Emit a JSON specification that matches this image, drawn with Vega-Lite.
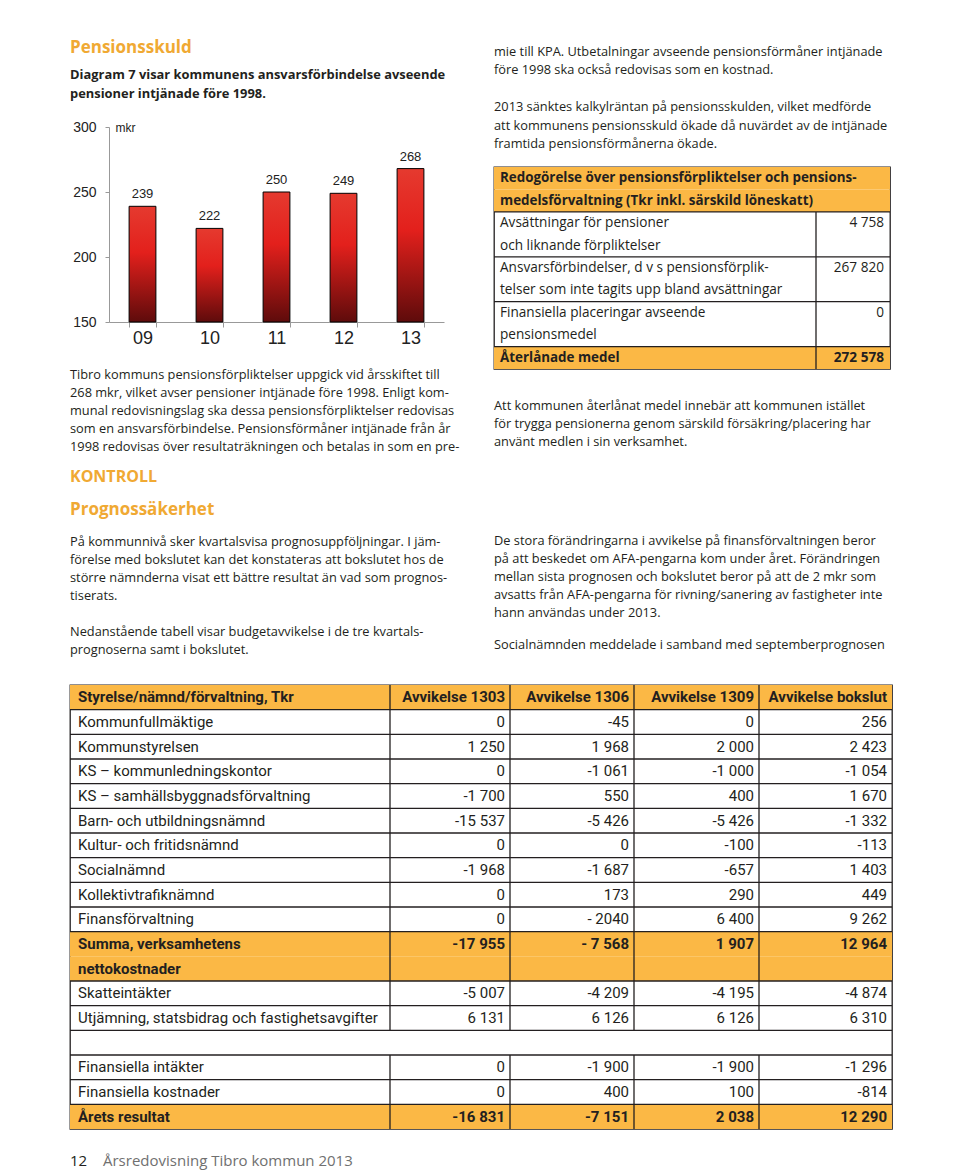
{
  "$schema": "https://vega.github.io/schema/vega-lite/v6.json",
  "background": "white",
  "padding": {"left": 68, "top": 30, "right": 0, "bottom": 0},
  "config": {"view": {"stroke": null}, "axis": {"grid": false}},
  "datasets": {
    "bars": [
      {"year": "09", "value": 239},
      {"year": "10", "value": 222},
      {"year": "11", "value": 250},
      {"year": "12", "value": 249},
      {"year": "13", "value": 268}
    ],
    "lines": [
      {"block": "L1", "i": 0, "text": "Pensionsskuld"},
      {"block": "L2", "i": 0, "text": "Diagram 7 visar kommunens ansvarsförbindelse avseende"},
      {"block": "L2", "i": 1, "text": "pensioner intjänade före 1998."},
      {"block": "L4", "i": 0, "text": "Tibro kommuns pensionsförpliktelser uppgick vid årsskiftet till"},
      {"block": "L4", "i": 1, "text": "268 mkr, vilket avser pensioner intjänade före 1998. Enligt kom-"},
      {"block": "L4", "i": 2, "text": "munal redovisningslag ska dessa pensionsförpliktelser redovisas"},
      {"block": "L4", "i": 3, "text": "som en ansvarsförbindelse. Pensionsförmåner intjänade från år"},
      {"block": "L4", "i": 4, "text": "1998 redovisas över resultaträkningen och betalas in som en pre-"},
      {"block": "L5", "i": 0, "text": "KONTROLL"},
      {"block": "L6", "i": 0, "text": "Prognossäkerhet"},
      {"block": "L7", "i": 0, "text": "På kommunnivå sker kvartalsvisa prognosuppföljningar. I jäm-"},
      {"block": "L7", "i": 1, "text": "förelse med bokslutet kan det konstateras att bokslutet hos de"},
      {"block": "L7", "i": 2, "text": "större nämnderna visat ett bättre resultat än vad som prognos-"},
      {"block": "L7", "i": 3, "text": "tiserats."},
      {"block": "L7", "i": 5, "text": "Nedanstående tabell visar budgetavvikelse i de tre kvartals-"},
      {"block": "L7", "i": 6, "text": "prognoserna samt i bokslutet."},
      {"block": "R1", "i": 0, "text": "mie till KPA. Utbetalningar avseende pensionsförmåner intjänade"},
      {"block": "R1", "i": 1, "text": "före 1998 ska också redovisas som en kostnad."},
      {"block": "R1", "i": 3, "text": "2013 sänktes kalkylräntan på pensionsskulden, vilket medförde"},
      {"block": "R1", "i": 4, "text": "att kommunens pensionsskuld ökade då nuvärdet av de intjänade"},
      {"block": "R1", "i": 5, "text": "framtida pensionsförmånerna ökade."},
      {"block": "R4", "i": 0, "text": "Att kommunen återlånat medel innebär att kommunen istället"},
      {"block": "R4", "i": 1, "text": "för trygga pensionerna genom särskild försäkring/placering har"},
      {"block": "R4", "i": 2, "text": "använt medlen i sin verksamhet."},
      {"block": "R5", "i": 0, "text": "De stora förändringarna i avvikelse på finansförvaltningen beror"},
      {"block": "R5", "i": 1, "text": "på att beskedet om AFA-pengarna kom under året. Förändringen"},
      {"block": "R5", "i": 2, "text": "mellan sista prognosen och bokslutet beror på att de 2 mkr som"},
      {"block": "R5", "i": 3, "text": "avsatts från AFA-pengarna för rivning/sanering av fastigheter inte"},
      {"block": "R5", "i": 4, "text": "hann användas under 2013."},
      {"block": "R6", "i": 0, "text": "Socialnämnden meddelade i samband med septemberprognosen"},
      {"block": "F", "i": 0, "text": "12"},
      {"block": "F", "i": 1, "text": "Årsredovisning Tibro kommun 2013"}
    ],
    "pens": [
      {"k": "h1", "label": "Redogörelse över pensionsförpliktelser och pensions-", "value": "", "kind": "head", "start": true},
      {"k": "h2", "label": "medelsförvaltning (Tkr inkl. särskild löneskatt)", "value": "", "kind": "head", "start": false},
      {"k": "a1", "label": "Avsättningar för pensioner", "value": "4 758", "kind": "row", "start": true},
      {"k": "a2", "label": "och liknande förpliktelser", "value": "", "kind": "row", "start": false},
      {"k": "b1", "label": "Ansvarsförbindelser, d v s pensionsförplik-", "value": "267 820", "kind": "row", "start": true},
      {"k": "b2", "label": "telser som inte tagits upp bland avsättningar", "value": "", "kind": "row", "start": false},
      {"k": "c1", "label": "Finansiella placeringar avseende", "value": "0", "kind": "row", "start": true},
      {"k": "c2", "label": "pensionsmedel", "value": "", "kind": "row", "start": false},
      {"k": "t", "label": "Återlånade medel", "value": "272 578", "kind": "total", "start": true}
    ],
    "budget": [
      {"k": "r00", "label": "Styrelse/nämnd/förvaltning, Tkr", "a": "Avvikelse 1303", "b": "Avvikelse 1306", "c": "Avvikelse 1309", "d": "Avvikelse bokslut", "kind": "head", "start": true},
      {"k": "r01", "label": "Kommunfullmäktige", "a": "0", "b": "-45", "c": "0", "d": "256", "kind": "row", "start": true},
      {"k": "r02", "label": "Kommunstyrelsen", "a": "1 250", "b": "1 968", "c": "2 000", "d": "2 423", "kind": "row", "start": true},
      {"k": "r03", "label": "KS – kommunledningskontor", "a": "0", "b": "-1 061", "c": "-1 000", "d": "-1 054", "kind": "row", "start": true},
      {"k": "r04", "label": "KS – samhällsbyggnadsförvaltning", "a": "-1 700", "b": "550", "c": "400", "d": "1 670", "kind": "row", "start": true},
      {"k": "r05", "label": "Barn- och utbildningsnämnd", "a": "-15 537", "b": "-5 426", "c": "-5 426", "d": "-1 332", "kind": "row", "start": true},
      {"k": "r06", "label": "Kultur- och fritidsnämnd", "a": "0", "b": "0", "c": "-100", "d": "-113", "kind": "row", "start": true},
      {"k": "r07", "label": "Socialnämnd", "a": "-1 968", "b": "-1 687", "c": "-657", "d": "1 403", "kind": "row", "start": true},
      {"k": "r08", "label": "Kollektivtrafiknämnd", "a": "0", "b": "173", "c": "290", "d": "449", "kind": "row", "start": true},
      {"k": "r09", "label": "Finansförvaltning", "a": "0", "b": "- 2040", "c": "6 400", "d": "9 262", "kind": "row", "start": true},
      {"k": "r10", "label": "Summa, verksamhetens", "a": "-17 955", "b": "- 7 568", "c": "1 907", "d": "12 964", "kind": "sum", "start": true},
      {"k": "r11", "label": "nettokostnader", "a": "", "b": "", "c": "", "d": "", "kind": "sum", "start": false},
      {"k": "r12", "label": "Skatteintäkter", "a": "-5 007", "b": "-4 209", "c": "-4 195", "d": "-4 874", "kind": "row", "start": true},
      {"k": "r13", "label": "Utjämning, statsbidrag och fastighetsavgifter", "a": "6 131", "b": "6 126", "c": "6 126", "d": "6 310", "kind": "row", "start": true},
      {"k": "r14", "label": "", "a": "", "b": "", "c": "", "d": "", "kind": "blank", "start": true},
      {"k": "r15", "label": "Finansiella intäkter", "a": "0", "b": "-1 900", "c": "-1 900", "d": "-1 296", "kind": "row", "start": true},
      {"k": "r16", "label": "Finansiella kostnader", "a": "0", "b": "400", "c": "100", "d": "-814", "kind": "row", "start": true},
      {"k": "r17", "label": "Årets resultat", "a": "-16 831", "b": "-7 151", "c": "2 038", "d": "12 290", "kind": "total", "start": true}
    ]
  },
  "spacing": 23,
  "bounds": "full",
  "vconcat": [
    {
      "spacing": 12,
      "bounds": "full",
      "hconcat": [
        {
          "spacing": 0,
          "bounds": "flush",
          "vconcat": [
            {"width": 410, "height": 35, "data": {"name": "lines"}, "transform": [{"filter": "datum.block == 'L1'"}],
             "mark": {"type": "text", "align": "left", "baseline": "middle", "font": "Open Sans", "fontSize": 17, "fontWeight": "bold", "color": "#f0a933"},
             "encoding": {"x": {"value": 0}, "y": {"value": 17.5}, "text": {"field": "text"}}},
            {"width": 410, "height": 38, "data": {"name": "lines"}, "transform": [{"filter": "datum.block == 'L2'"}],
             "mark": {"type": "text", "align": "left", "baseline": "middle", "font": "Open Sans", "fontSize": 12.9, "fontWeight": "bold", "color": "#231f20"},
             "encoding": {"x": {"value": 0}, "y": {"field": "i", "type": "ordinal", "axis": null, "scale": {"type": "point", "domain": [0, 1], "range": [9.5, 28.5], "padding": 0}}, "text": {"field": "text"}}},
            {"width": 410, "height": 219, "data": {"name": "bars"},
             "layer": [
               {"mark": {"type": "bar", "stroke": "#000000", "strokeWidth": 1,
                         "color": {"gradient": "linear", "x1": 0, "y1": 0, "x2": 0, "y2": 1,
                                   "stops": [{"offset": 0, "color": "#e53a2f"}, {"offset": 0.4, "color": "#e3201c"}, {"offset": 1, "color": "#5e0b0b"}]}},
                "encoding": {
                  "x": {"field": "year", "type": "ordinal",
                        "scale": {"type": "band", "range": [39, 374], "paddingInner": 0.6, "paddingOuter": 0.3},
                        "axis": {"title": null, "labelAngle": 0, "labelFont": "Liberation Sans", "labelFontSize": 18, "labelColor": "#222222",
                                 "domainColor": "#999999", "tickColor": "#999999", "tickSize": 5, "tickBand": "extent", "labelPadding": 2, "grid": false}},
                  "y": {"field": "value", "type": "quantitative",
                        "scale": {"domain": [150, 300], "range": [219, 24], "zero": false, "nice": false},
                        "axis": {"values": [150, 200, 250, 300], "offset": -39, "grid": false, "domainColor": "#999999", "tickColor": "#999999",
                                 "tickSize": 4, "labelPadding": 9, "labelFont": "Liberation Sans", "labelFontSize": 14, "labelColor": "#222222",
                                 "labelFlush": false, "labelOverlap": false,
                                 "title": "mkr", "titleAngle": 0, "titleAlign": "left", "titleBaseline": "middle", "titleX": 6, "titleY": 24,
                                 "titleFont": "Liberation Sans", "titleFontSize": 12, "titleFontWeight": "normal", "titleColor": "#222222"}},
                  "y2": {"datum": 150}
                }},
               {"mark": {"type": "text", "baseline": "bottom", "dy": -5, "font": "Liberation Sans", "fontSize": 13, "color": "#222222"},
                "encoding": {
                  "x": {"field": "year", "type": "ordinal"},
                  "y": {"field": "value", "type": "quantitative"},
                  "text": {"field": "value"}
                }}
             ]},
            {"width": 410, "height": 133, "data": {"name": "lines"}, "transform": [{"filter": "datum.block == 'L4'"}],
             "mark": {"type": "text", "align": "left", "baseline": "middle", "font": "Open Sans", "fontSize": 12.8, "color": "#231f20"},
             "encoding": {"x": {"value": 0}, "y": {"field": "i", "type": "ordinal", "axis": null, "scale": {"type": "point", "domain": [0, 1, 2, 3, 4], "range": [53, 125], "padding": 0}}, "text": {"field": "text"}}},
            {"width": 410, "height": 37, "data": {"name": "lines"}, "transform": [{"filter": "datum.block == 'L5'"}],
             "mark": {"type": "text", "align": "left", "baseline": "middle", "font": "Open Sans", "fontSize": 16, "fontWeight": "bold", "color": "#f0a933"},
             "encoding": {"x": {"value": 0}, "y": {"value": 22}, "text": {"field": "text"}}},
            {"width": 410, "height": 33, "data": {"name": "lines"}, "transform": [{"filter": "datum.block == 'L6'"}],
             "mark": {"type": "text", "align": "left", "baseline": "middle", "font": "Open Sans", "fontSize": 17, "fontWeight": "bold", "color": "#f0a933"},
             "encoding": {"x": {"value": 0}, "y": {"value": 17.5}, "text": {"field": "text"}}},
            {"width": 410, "height": 135, "data": {"name": "lines"}, "transform": [{"filter": "datum.block == 'L7'"}],
             "mark": {"type": "text", "align": "left", "baseline": "middle", "font": "Open Sans", "fontSize": 12.8, "color": "#231f20"},
             "encoding": {"x": {"value": 0}, "y": {"field": "i", "type": "ordinal", "axis": null, "scale": {"type": "point", "domain": [0, 1, 2, 3, 4, 5, 6], "range": [17, 125], "padding": 0}}, "text": {"field": "text"}}}
          ]
        },
        {
          "spacing": 0,
          "bounds": "flush",
          "vconcat": [
            {"width": 396, "height": 137, "data": {"name": "lines"}, "transform": [{"filter": "datum.block == 'R1'"}],
             "mark": {"type": "text", "align": "left", "baseline": "middle", "font": "Open Sans", "fontSize": 12.8, "color": "#231f20"},
             "encoding": {"x": {"value": 0}, "y": {"field": "i", "type": "ordinal", "axis": null, "scale": {"type": "point", "domain": [0, 1, 2, 3, 4, 5], "range": [22, 114], "padding": 0}}, "text": {"field": "text"}}},
            {"width": 396, "height": 202, "data": {"name": "pens"},
             "view": {"stroke": "#231f20", "strokeWidth": 1.3},
             "encoding": {"y": {"field": "k", "type": "ordinal", "axis": null, "scale": {"type": "band", "domain": ["h1", "h2", "a1", "a2", "b1", "b2", "c1", "c2", "t"], "paddingInner": 0, "paddingOuter": 0}}},
             "layer": [
               {"transform": [{"filter": "datum.kind != 'row'"}], "mark": {"type": "rect", "color": "#fbb845"},
                "encoding": {"x": {"value": 0}, "x2": {"value": "width"}}},
               {"transform": [{"filter": "datum.k == 'a1'"}], "mark": {"type": "rule", "color": "#231f20", "strokeWidth": 1.3},
                "encoding": {"x": {"value": 322}, "y": {"field": "k", "type": "ordinal", "bandPosition": 0}, "y2": {"value": "height"}}},
               {"transform": [{"filter": "datum.start && datum.k != 'h1'"}], "mark": {"type": "rule", "color": "#231f20", "strokeWidth": 1.3},
                "encoding": {"y": {"field": "k", "type": "ordinal", "bandPosition": 0}}},
               {"transform": [{"filter": "datum.kind == 'row'"}], "mark": {"type": "text", "align": "left", "baseline": "middle", "font": "Open Sans", "fontSize": 13.6, "color": "#231f20"},
                "encoding": {"x": {"value": 6}, "text": {"field": "label"}}},
               {"transform": [{"filter": "datum.kind != 'row'"}], "mark": {"type": "text", "align": "left", "baseline": "middle", "font": "Open Sans", "fontSize": 13.4, "fontWeight": "bold", "color": "#231f20"},
                "encoding": {"x": {"value": 6}, "text": {"field": "label"}}},
               {"transform": [{"filter": "datum.kind == 'row' && datum.value != ''"}], "mark": {"type": "text", "align": "right", "baseline": "middle", "font": "Open Sans", "fontSize": 13.6, "color": "#231f20"},
                "encoding": {"x": {"value": 390}, "text": {"field": "value"}}},
               {"transform": [{"filter": "datum.kind == 'total'"}], "mark": {"type": "text", "align": "right", "baseline": "middle", "font": "Open Sans", "fontSize": 13.6, "fontWeight": "bold", "color": "#231f20"},
                "encoding": {"x": {"value": 390}, "text": {"field": "value"}}}
             ]},
            {"width": 396, "height": 91, "data": {"name": "lines"}, "transform": [{"filter": "datum.block == 'R4'"}],
             "mark": {"type": "text", "align": "left", "baseline": "middle", "font": "Open Sans", "fontSize": 12.8, "color": "#231f20"},
             "encoding": {"x": {"value": 0}, "y": {"field": "i", "type": "ordinal", "axis": null, "scale": {"type": "point", "domain": [0, 1, 2], "range": [37, 73], "padding": 0}}, "text": {"field": "text"}}},
            {"width": 396, "height": 165, "data": {"name": "lines"}, "transform": [{"filter": "datum.block == 'R5'"}],
             "mark": {"type": "text", "align": "left", "baseline": "middle", "font": "Open Sans", "fontSize": 12.8, "color": "#231f20"},
             "encoding": {"x": {"value": 0}, "y": {"field": "i", "type": "ordinal", "axis": null, "scale": {"type": "point", "domain": [0, 1, 2, 3, 4], "range": [81, 153], "padding": 0}}, "text": {"field": "text"}}},
            {"width": 396, "height": 35, "data": {"name": "lines"}, "transform": [{"filter": "datum.block == 'R6'"}],
             "mark": {"type": "text", "align": "left", "baseline": "middle", "font": "Open Sans", "fontSize": 12.8, "color": "#231f20"},
             "encoding": {"x": {"value": 0}, "y": {"value": 20}, "text": {"field": "text"}}}
          ]
        }
      ]
    },
    {
      "width": 822, "height": 444, "data": {"name": "budget"},
      "view": {"stroke": "#231f20", "strokeWidth": 1.3},
      "encoding": {"y": {"field": "k", "type": "ordinal", "axis": null,
                         "scale": {"type": "band", "paddingInner": 0, "paddingOuter": 0,
                                   "domain": ["r00", "r01", "r02", "r03", "r04", "r05", "r06", "r07", "r08", "r09", "r10", "r11", "r12", "r13", "r14", "r15", "r16", "r17"]}}},
      "layer": [
        {"transform": [{"filter": "datum.kind != 'row' && datum.kind != 'blank'"}], "mark": {"type": "rect", "color": "#fbb845"},
         "encoding": {"x": {"value": 0}, "x2": {"value": "width"}}},
        {"transform": [{"filter": "datum.k == 'r00'"}], "mark": {"type": "rule", "color": "#231f20", "strokeWidth": 1.3},
         "encoding": {"x": {"value": 320}, "y": {"field": "k", "type": "ordinal", "bandPosition": 0}, "y2": {"value": "height"}}},
        {"transform": [{"filter": "datum.k == 'r00'"}], "mark": {"type": "rule", "color": "#231f20", "strokeWidth": 1.3},
         "encoding": {"x": {"value": 440}, "y": {"field": "k", "type": "ordinal", "bandPosition": 0}, "y2": {"value": "height"}}},
        {"transform": [{"filter": "datum.k == 'r00'"}], "mark": {"type": "rule", "color": "#231f20", "strokeWidth": 1.3},
         "encoding": {"x": {"value": 564}, "y": {"field": "k", "type": "ordinal", "bandPosition": 0}, "y2": {"value": "height"}}},
        {"transform": [{"filter": "datum.k == 'r00'"}], "mark": {"type": "rule", "color": "#231f20", "strokeWidth": 1.3},
         "encoding": {"x": {"value": 689}, "y": {"field": "k", "type": "ordinal", "bandPosition": 0}, "y2": {"value": "height"}}},
        {"transform": [{"filter": "datum.kind == 'blank'"}], "mark": {"type": "rect", "color": "#ffffff"},
         "encoding": {"x": {"value": 1}, "x2": {"value": 821}}},
        {"transform": [{"filter": "datum.start && datum.k != 'r00'"}], "mark": {"type": "rule", "color": "#231f20", "strokeWidth": 1.3},
         "encoding": {"y": {"field": "k", "type": "ordinal", "bandPosition": 0}}},
        {"transform": [{"filter": "datum.kind == 'row'"}], "mark": {"type": "text", "align": "left", "baseline": "middle", "font": "Roboto", "fontSize": 15, "color": "#231f20"},
         "encoding": {"x": {"value": 8}, "text": {"field": "label"}}},
        {"transform": [{"filter": "datum.kind == 'head' || datum.kind == 'sum' || datum.kind == 'total'"}], "mark": {"type": "text", "align": "left", "baseline": "middle", "font": "Roboto", "fontSize": 15, "fontWeight": "bold", "color": "#231f20"},
         "encoding": {"x": {"value": 8}, "text": {"field": "label"}}},
        {"transform": [{"filter": "datum.kind == 'row'"}], "mark": {"type": "text", "align": "right", "baseline": "middle", "font": "Roboto", "fontSize": 15, "color": "#231f20"},
         "encoding": {"x": {"value": 435}, "text": {"field": "a"}}},
        {"transform": [{"filter": "datum.kind == 'row'"}], "mark": {"type": "text", "align": "right", "baseline": "middle", "font": "Roboto", "fontSize": 15, "color": "#231f20"},
         "encoding": {"x": {"value": 559}, "text": {"field": "b"}}},
        {"transform": [{"filter": "datum.kind == 'row'"}], "mark": {"type": "text", "align": "right", "baseline": "middle", "font": "Roboto", "fontSize": 15, "color": "#231f20"},
         "encoding": {"x": {"value": 684}, "text": {"field": "c"}}},
        {"transform": [{"filter": "datum.kind == 'row'"}], "mark": {"type": "text", "align": "right", "baseline": "middle", "font": "Roboto", "fontSize": 15, "color": "#231f20"},
         "encoding": {"x": {"value": 817}, "text": {"field": "d"}}},
        {"transform": [{"filter": "datum.kind == 'head' || datum.kind == 'sum' || datum.kind == 'total'"}], "mark": {"type": "text", "align": "right", "baseline": "middle", "font": "Roboto", "fontSize": 15, "fontWeight": "bold", "color": "#231f20"},
         "encoding": {"x": {"value": 435}, "text": {"field": "a"}}},
        {"transform": [{"filter": "datum.kind == 'head' || datum.kind == 'sum' || datum.kind == 'total'"}], "mark": {"type": "text", "align": "right", "baseline": "middle", "font": "Roboto", "fontSize": 15, "fontWeight": "bold", "color": "#231f20"},
         "encoding": {"x": {"value": 559}, "text": {"field": "b"}}},
        {"transform": [{"filter": "datum.kind == 'head' || datum.kind == 'sum' || datum.kind == 'total'"}], "mark": {"type": "text", "align": "right", "baseline": "middle", "font": "Roboto", "fontSize": 15, "fontWeight": "bold", "color": "#231f20"},
         "encoding": {"x": {"value": 684}, "text": {"field": "c"}}},
        {"transform": [{"filter": "datum.kind == 'head' || datum.kind == 'sum' || datum.kind == 'total'"}], "mark": {"type": "text", "align": "right", "baseline": "middle", "font": "Roboto", "fontSize": 15, "fontWeight": "bold", "color": "#231f20"},
         "encoding": {"x": {"value": 817}, "text": {"field": "d"}}}
      ]
    },
    {
      "width": 822, "height": 16, "data": {"name": "lines"},
      "layer": [
        {"transform": [{"filter": "datum.block == 'F' && datum.i == 0"}],
         "mark": {"type": "text", "align": "left", "baseline": "middle", "font": "Open Sans", "fontSize": 15, "color": "#231f20"},
         "encoding": {"x": {"value": 0}, "y": {"value": 6}, "text": {"field": "text"}}},
        {"transform": [{"filter": "datum.block == 'F' && datum.i == 1"}],
         "mark": {"type": "text", "align": "left", "baseline": "middle", "font": "Open Sans", "fontSize": 15, "color": "#707070"},
         "encoding": {"x": {"value": 33}, "y": {"value": 6}, "text": {"field": "text"}}}
      ]
    }
  ]
}
